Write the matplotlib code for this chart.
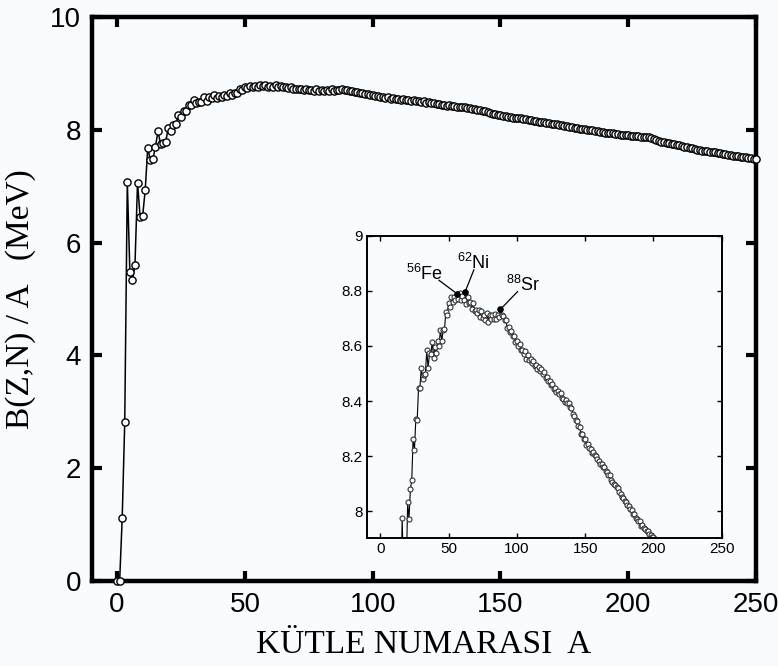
import numpy as np
import matplotlib.pyplot as plt

# mass number A and binding energy per nucleon B/A (MeV), most bound isobar
mass_number = np.arange(0, 251)
b_per_a = [
    0.0, 0.0, 1.112, 2.827, 7.074, 5.48, 5.332, 5.606, 7.062, 6.463,
    6.475, 6.928, 7.680, 7.470, 7.476, 7.699, 7.976, 7.751, 7.767, 7.779,
    8.032, 7.972, 8.080, 8.112, 8.261, 8.224, 8.334, 8.332, 8.448, 8.449,
    8.521, 8.481, 8.493, 8.498, 8.584, 8.520, 8.575, 8.570, 8.614, 8.557,
    8.595, 8.576, 8.617, 8.601, 8.658, 8.619, 8.656, 8.661, 8.723, 8.711,
    8.756, 8.742, 8.776, 8.760, 8.778, 8.765, 8.790, 8.770, 8.792, 8.768,
    8.781, 8.765, 8.795, 8.752, 8.777, 8.757, 8.760, 8.734, 8.756, 8.725,
    8.730, 8.718, 8.732, 8.705, 8.725, 8.701, 8.711, 8.695, 8.718, 8.688,
    8.711, 8.696, 8.711, 8.696, 8.717, 8.697, 8.712, 8.705, 8.733, 8.714,
    8.710, 8.693, 8.693, 8.664, 8.667, 8.649, 8.654, 8.635, 8.635, 8.614,
    8.619, 8.601, 8.607, 8.584, 8.587, 8.571, 8.580, 8.554, 8.567, 8.548,
    8.551, 8.537, 8.545, 8.527, 8.532, 8.517, 8.523, 8.510, 8.517, 8.499,
    8.505, 8.482, 8.488, 8.472, 8.473, 8.458, 8.463, 8.445, 8.449, 8.431,
    8.438, 8.424, 8.428, 8.410, 8.408, 8.398, 8.403, 8.392, 8.394, 8.378,
    8.376, 8.354, 8.346, 8.330, 8.327, 8.309, 8.304, 8.280, 8.279, 8.263,
    8.262, 8.239, 8.244, 8.229, 8.225, 8.213, 8.215, 8.204, 8.202, 8.189,
    8.184, 8.173, 8.173, 8.162, 8.159, 8.147, 8.142, 8.132, 8.130, 8.115,
    8.106, 8.098, 8.097, 8.087, 8.084, 8.069, 8.064, 8.052, 8.049, 8.039,
    8.035, 8.023, 8.018, 8.008, 8.005, 7.991, 7.989, 7.974, 7.973, 7.963,
    7.963, 7.948, 7.949, 7.938, 7.936, 7.927, 7.927, 7.916, 7.914, 7.905,
    7.906, 7.898, 7.897, 7.886, 7.886, 7.878, 7.875, 7.870, 7.868, 7.848,
    7.834, 7.817, 7.804, 7.791, 7.786, 7.772, 7.764, 7.750, 7.744, 7.730,
    7.725, 7.710, 7.700, 7.690, 7.685, 7.670, 7.662, 7.650, 7.643, 7.630,
    7.631, 7.619, 7.615, 7.604, 7.601, 7.591, 7.586, 7.576, 7.570, 7.561,
    7.555, 7.545, 7.542, 7.531, 7.525, 7.516, 7.511, 7.501, 7.497, 7.487,
    7.478,
]

# highlighted nuclei in the zoomed panel
iso_names = ["56", "62", "88"]
iso_symbols = ["Fe", "Ni", "Sr"]
iso_mass = [56, 62, 88]
iso_label_pos = [(32, 8.862), (68, 8.90), (105, 8.822)]
iso_line_start = [(43, 8.838), (68.5, 8.876), (100.5, 8.797)]

bg = "#f8fcff"
tick_font = ["Liberation Sans Narrow", "Liberation Sans"]
plt.rcParams["mathtext.default"] = "regular"
plt.rcParams["font.family"] = ["Liberation Sans", "DejaVu Sans"]

fig = plt.figure(figsize=(7.78, 6.66), dpi=100, facecolor=bg)
ax = fig.add_axes([0.1183, 0.1276, 0.8535, 0.8468], facecolor=bg)

ax.plot(mass_number, b_per_a, "-o", color="black", lw=1.1,
        ms=5.2, mfc="white", mec="black", mew=1.0, clip_on=False, zorder=3)

ax.set_xlim(-9.8, 250)
ax.set_ylim(0, 10)
ax.set_xticks([0, 50, 100, 150, 200, 250])
ax.set_yticks([0, 2, 4, 6, 8, 10])
ax.tick_params(direction="in", length=7, width=3, top=True, right=True,
               pad=8, labelsize=20)
for lbl in ax.get_xticklabels() + ax.get_yticklabels():
    lbl.set_family(tick_font)
for sp in ax.spines.values():
    sp.set_linewidth(3.2)

ax.set_xlabel("KÜTLE NUMARASI  A", family="Liberation Serif",
              fontsize=24, labelpad=8)
ax.set_ylabel("B(Z,N) / A   (MeV)", family="Liberation Serif",
              fontsize=24, labelpad=10)

# zoomed view around the iron peak
ins = fig.add_axes([0.4713, 0.1926, 0.4563, 0.4535], facecolor=bg)
ins.plot(mass_number, b_per_a, "-o", color="black", lw=0.8,
         ms=3.6, mfc="white", mec="#333333", mew=0.8)
ins.set_xlim(-10, 250)
ins.set_ylim(7.904, 9.0)
ins.set_xticks([0, 50, 100, 150, 200, 250])
ins.set_yticks([8.0, 8.2, 8.4, 8.6, 8.8, 9.0])
ins.set_yticklabels(["8", "8.2", "8.4", "8.6", "8.8", "9"])
ins.tick_params(direction="in", length=3.5, width=1.0, top=True, right=True,
                pad=3, labelsize=11)
for sp in ins.spines.values():
    sp.set_linewidth(1.4)

for name, sym, a, (tx, ty), (lx, ly) in zip(iso_names, iso_symbols, iso_mass,
                                             iso_label_pos, iso_line_start):
    b = b_per_a[a]
    ins.plot([lx, a], [ly, b], color="black", lw=0.9, zorder=4)
    ins.plot(a, b, "o", color="black", ms=3.6, zorder=5)
    ins.text(tx, ty, r"$^{%s}$%s" % (name, sym), fontsize=13,
             ha="center", va="center")

fig.savefig("out.png", dpi=100, facecolor=bg)
